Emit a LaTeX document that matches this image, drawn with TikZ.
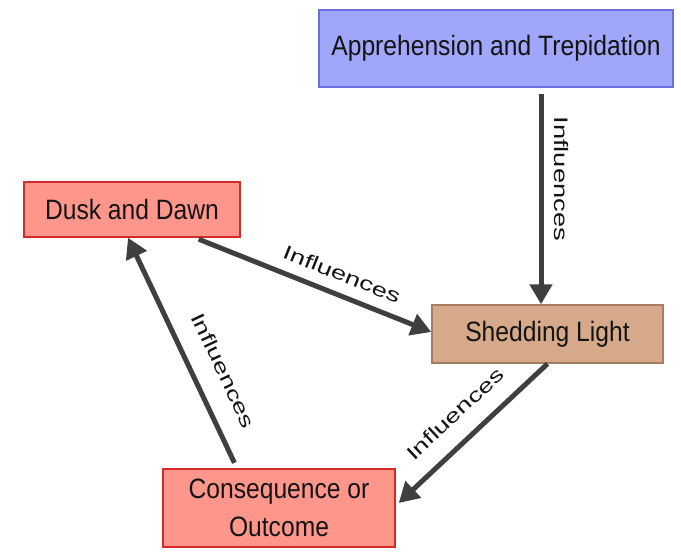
\documentclass[tikz,border=0pt]{standalone}
\usepackage{fontspec}
\setmainfont{Liberation Sans}
\newfontfamily\boxfont[FakeStretch=0.88]{Liberation Sans}
\newfontfamily\linkfont[FakeStretch=1.4]{Liberation Sans}
\usetikzlibrary{arrows.meta}

\definecolor{appfill}{RGB}{160,166,250}
\definecolor{appline}{RGB}{104,112,220}
\definecolor{redfill}{RGB}{255,150,140}
\definecolor{redline}{RGB}{212,42,42}
\definecolor{tanfill}{RGB}{213,169,137}
\definecolor{tanline}{RGB}{168,124,100}
\definecolor{arrowgray}{RGB}{63,63,63}
\definecolor{inkcol}{RGB}{20,20,20}

\tikzset{
  box/.style={draw, line width=1.5pt, inner sep=0pt, align=center,
    text=inkcol, font=\boxfont\fontsize{28}{38}\selectfont},
  link/.style={line width=5pt, draw=arrowgray,
    -{Triangle[length=20pt,width=22pt]}},
  linklabel/.style={sloped, anchor=south, inner sep=0pt, text=inkcol,
    font=\linkfont\fontsize{19.5}{22}\selectfont}
}

\begin{document}
\begin{tikzpicture}[x=1pt,y=-1pt]
  \useasboundingbox[fill=white] (0,0) rectangle (681,552);

  % concept boxes
  \node[box, fill=appfill, draw=appline, minimum width=354pt, minimum height=77pt]
    (app) at (496,48.5) {Apprehension and Trepidation};
  \node[box, fill=redfill, draw=redline, minimum width=216pt, minimum height=55pt]
    (dusk) at (132,209.5) {Dusk and Dawn};
  \node[box, fill=tanfill, draw=tanline, minimum width=231pt, minimum height=58pt]
    (shed) at (547.5,334) {Shedding Light};
  \node[box, fill=redfill, draw=redline, minimum width=232pt, minimum height=78pt]
    (cons) at (279,508) {Consequence or\\Outcome};

  % influence links
  \draw[link, shorten <=6pt] ([xshift=45pt]app.south) -- ([xshift=-6.5pt]shed.north)
    node[linklabel, pos=0.42, yshift=10.5pt] {Influences};
  \draw[link, shorten <=4pt] ([xshift=63pt]dusk.south) -- ([yshift=2pt]shed.west)
    node[linklabel, pos=0.59, yshift=11pt] {Influences};
  \draw[link] (shed.south) -- ([xshift=3pt,yshift=5pt]cons.east)
    node[linklabel, pos=0.5, yshift=17pt] {Influences};
  \draw[link, shorten <=6pt] ([xshift=-42pt]cons.north) -- ([xshift=-4pt]dusk.south)
    node[linklabel, pos=0.37, yshift=20pt] {Influences};
\end{tikzpicture}
\end{document}
